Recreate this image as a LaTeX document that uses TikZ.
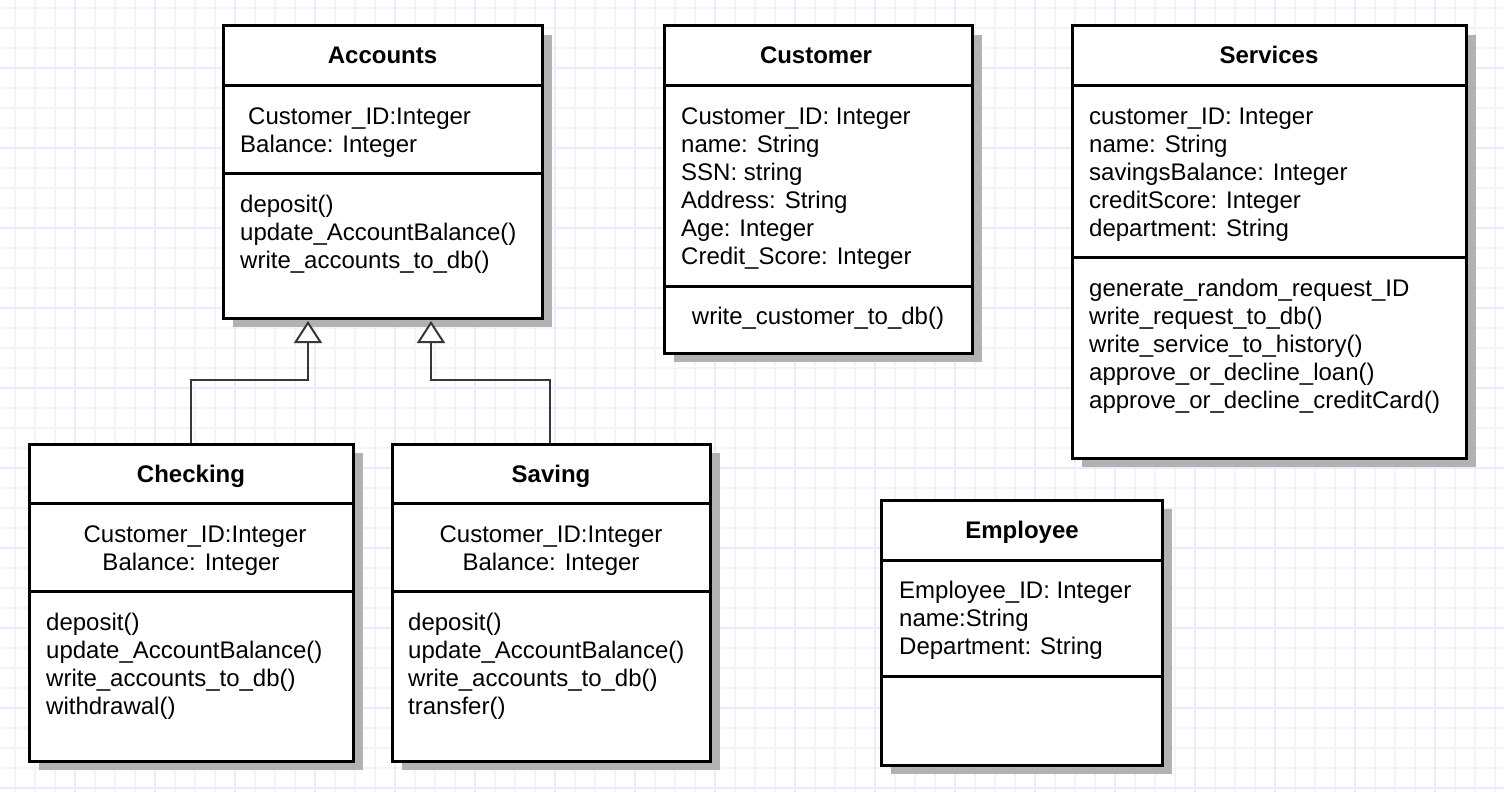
\documentclass[tikz,border=0pt]{standalone}
\usepackage{fontspec}
\setmainfont{Liberation Sans}
\usetikzlibrary{arrows.meta,shadows}
\definecolor{gridminor}{RGB}{243,242,255}
\definecolor{gridmajor}{RGB}{236,234,254}
\definecolor{connc}{RGB}{55,55,55}
\begin{document}
\begin{tikzpicture}[x=1pt,y=-1pt,
  cls/.style={draw=black, line width=3pt, fill=white, inner sep=0pt,
    drop shadow={shadow xshift=9.5pt, shadow yshift=-9pt, fill=black!30, opacity=1}},
  sepline/.style={draw=black, line width=3pt},
  txt/.style={inner sep=0pt, font=\fontsize{24}{28}\selectfont, anchor=base west},
  ctxt/.style={txt, anchor=base},
  ttl/.style={inner sep=0pt, font=\fontsize{24}{28}\selectfont\bfseries, anchor=base},
  inh/.style={draw=connc, line width=2pt,
    -{Triangle[open, width=28pt, length=22pt, line width=2pt, fill=white]}}
]
\useasboundingbox (0,0) rectangle (1504,792);
\fill[white] (0,0) rectangle (1504,792);
% grid
\foreach \x in {15,35,...,1504} \draw[gridminor, line width=1.5pt] (\x,0) -- (\x,792);
\foreach \y in {8,28,...,792} \draw[gridminor, line width=1.5pt] (0,\y) -- (1504,\y);
\foreach \x in {75,155,...,1504} \draw[gridmajor, line width=1.5pt] (\x,0) -- (\x,792);
\foreach \y in {68,148,...,792} \draw[gridmajor, line width=1.5pt] (0,\y) -- (1504,\y);

% boxes
\node[cls, minimum width=319pt, minimum height=292pt] (accounts) at (382.5,172) {};
\node[cls, minimum width=308pt, minimum height=327pt] (customer) at (818,189.5) {};
\node[cls, minimum width=394pt, minimum height=432pt] (services) at (1269,242) {};
\node[cls, minimum width=324pt, minimum height=317pt] (checking) at (191,602.5) {};
\node[cls, minimum width=318pt, minimum height=317pt] (saving) at (551,602.5) {};
\node[cls, minimum width=281pt, minimum height=265pt] (employee) at (1021.5,632.5) {};

% separators
\draw[sepline] (accounts.west |- 0,85.5) -- (accounts.east |- 0,85.5);
\draw[sepline] (accounts.west |- 0,173.5) -- (accounts.east |- 0,173.5);
\draw[sepline] (customer.west |- 0,85.5) -- (customer.east |- 0,85.5);
\draw[sepline] (customer.west |- 0,286) -- (customer.east |- 0,286);
\draw[sepline] (services.west |- 0,85.5) -- (services.east |- 0,85.5);
\draw[sepline] (services.west |- 0,257) -- (services.east |- 0,257);
\draw[sepline] (checking.west |- 0,503.5) -- (checking.east |- 0,503.5);
\draw[sepline] (checking.west |- 0,591.5) -- (checking.east |- 0,591.5);
\draw[sepline] (saving.west |- 0,503.5) -- (saving.east |- 0,503.5);
\draw[sepline] (saving.west |- 0,591.5) -- (saving.east |- 0,591.5);
\draw[sepline] (employee.west |- 0,560) -- (employee.east |- 0,560);
\draw[sepline] (employee.west |- 0,676) -- (employee.east |- 0,676);

% titles
\node[ttl] (accounts-t) at (382.5,63.5) {Accounts};
\node[ttl] (customer-t) at (816,63.5) {Customer};
\node[ttl] (services-t) at (1269,63.5) {Services};
\node[ttl] (checking-t) at (191,482) {Checking};
\node[ttl] (saving-t) at (551,482) {Saving};
\node[ttl] (employee-t) at (1022,538) {Employee};

% Accounts
\node[txt] (acc-a1) at (248,124) {Customer\_ID:Integer};
\node[txt] (acc-a2) at (240,152) {Balance: Integer};
\foreach \t [count=\i] in {deposit(),update\_AccountBalance(),write\_accounts\_to\_db()}
  \node[txt] (acc-m\i) at (240,{212+28*(\i-1)}) {\t};

% Customer
\foreach \t [count=\i] in {Customer\_ID: Integer,name: String,SSN: string,Address: String,Age: Integer,Credit\_Score: Integer}
  \node[txt] (cus-a\i) at (681,{124+28*(\i-1)}) {\t};
\node[ctxt] (cus-m1) at (818,324) {write\_customer\_to\_db()};

% Services
\foreach \t [count=\i] in {customer\_ID: Integer,name: String,savingsBalance: Integer,creditScore: Integer,department: String}
  \node[txt] (ser-a\i) at (1089,{124+28*(\i-1)}) {\t};
\foreach \t [count=\i] in {generate\_random\_request\_ID,write\_request\_to\_db(),write\_service\_to\_history(),approve\_or\_decline\_loan(),approve\_or\_decline\_creditCard()}
  \node[txt] (ser-m\i) at (1089,{296+28*(\i-1)}) {\t};

% Checking
\node[ctxt] (chk-a1) at (195,542) {Customer\_ID:Integer};
\node[ctxt] (chk-a2) at (191,570) {Balance: Integer};
\foreach \t [count=\i] in {deposit(),update\_AccountBalance(),write\_accounts\_to\_db(),withdrawal()}
  \node[txt] (chk-m\i) at (46,{630+28*(\i-1)}) {\t};

% Saving
\node[ctxt] (sav-a1) at (551,542) {Customer\_ID:Integer};
\node[ctxt] (sav-a2) at (551,570) {Balance: Integer};
\foreach \t [count=\i] in {deposit(),update\_AccountBalance(),write\_accounts\_to\_db(),transfer()}
  \node[txt] (sav-m\i) at (408,{630+28*(\i-1)}) {\t};

% Employee
\foreach \t [count=\i] in {Employee\_ID: Integer,name:String,Department: String}
  \node[txt] (emp-a\i) at (899,{598+28*(\i-1)}) {\t};

% inheritance
\draw[inh] (checking.north) -- ++(0,-63) -| ([xshift=-74.5pt,yshift=-1.5pt]accounts.south);
\draw[inh] ([xshift=-1pt]saving.north) -- ++(0,-63) -| ([xshift=48.5pt,yshift=-1.5pt]accounts.south);
\end{tikzpicture}
\end{document}
